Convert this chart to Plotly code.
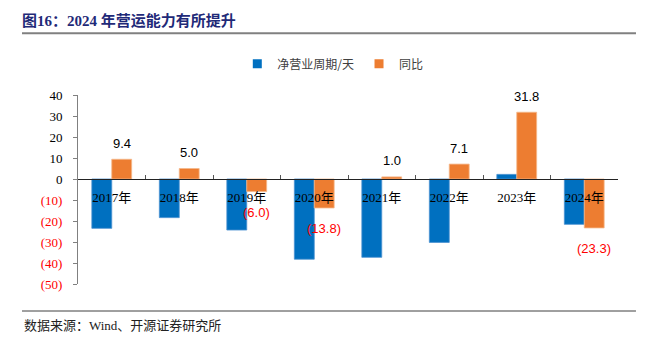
import plotly.graph_objects as go

# Net operating cycle (days) and its year-over-year change, 2017-2024
years = ["2017年", "2018年", "2019年", "2020年", "2021年", "2022年", "2023年", "2024年"]
cycle_days = [-23.5, -18.4, -24.3, -38.2, -37.3, -30.2, 2.2, -21.6]
yoy_change = [9.4, 5.0, -6.0, -13.8, 1.0, 7.1, 31.8, -23.3]

y_ticks = [40, 30, 20, 10, 0, -10, -20, -30, -40, -50]
y_min, y_max = -50, 40

BLUE = "#0070C0"
ORANGE = "#ED7D31"
RED = "#FF0000"
SERIF = "Liberation Serif, Noto Sans CJK SC"
SANS = "Liberation Sans, Noto Sans CJK SC"


def tick_label(v):
    if v < 0:
        return f'<span style="color:{RED}">({abs(v)})</span>'
    return str(v)


def value_label(v):
    if v < 0:
        return f'<span style="color:{RED}">({abs(v):.1f})</span>'
    return f"{v:.1f}"


fig = go.Figure()
fig.add_trace(go.Bar(
    name="净营业周期/天", x=years, y=cycle_days, showlegend=False,
    marker=dict(color=BLUE, line=dict(color="#4A90D0", width=0.8)),
))
fig.add_trace(go.Bar(
    name="同比", x=years, y=yoy_change, showlegend=False,
    marker=dict(color=ORANGE, line=dict(color="#F5B88A", width=0.8)),
))

# Legend entries with small square keys
for name, color in [("净营业周期/天", BLUE), ("同比", ORANGE)]:
    fig.add_trace(go.Scatter(
        name=name, x=[None], y=[None], mode="markers",
        marker=dict(symbol="square", size=9, color=color),
    ))

# Value labels for the year-over-year series
annotations = []
for yr, v in zip(years, yoy_change):
    annotations.append(dict(
        x=yr, y=v, xref="x", yref="y", text=value_label(v), showarrow=False,
        xshift=10, yshift=16 if v >= 0 else -21,
        font=dict(family=SANS, size=13, color="#000000"),
    ))

# Source note
annotations.append(dict(
    x=-0.1037, y=-0.217, xref="paper", yref="paper", xanchor="left", yanchor="middle",
    text="数据来源：Wind、开源证券研究所", showarrow=False,
    font=dict(family=SERIF, size=13, color="#222222"),
))

fig.update_layout(
    width=649, height=345,
    margin=dict(l=78, r=31, t=95, b=61),
    paper_bgcolor="white", plot_bgcolor="white",
    barmode="group", bargap=0.41, bargroupgap=0,
    title=dict(
        text="<b>图16：2024 年营运能力有所提升</b>",
        x=0.034, xref="container", xanchor="left",
        y=0.94, yref="container", yanchor="middle",
        font=dict(family=SERIF, size=15, color="#1F2A78"),
    ),
    legend=dict(
        orientation="h", x=0.295, y=1.165, xanchor="left", yanchor="middle",
        font=dict(family="Noto Sans CJK SC", size=12, color="#404040"),
        itemwidth=30, traceorder="normal",
    ),
    annotations=annotations,
    shapes=[
        dict(type="line", xref="paper", yref="paper", x0=-0.1037, x1=1.0333,
             y0=1.3265, y1=1.3265, line=dict(color="#808080", width=2)),
        dict(type="line", xref="paper", yref="paper", x0=-0.1037, x1=1.0333,
             y0=-0.1429, y1=-0.1429, line=dict(color="#404040", width=1)),
    ],
)

fig.update_xaxes(
    type="category", anchor="free", position=(0 - y_min) / (y_max - y_min),
    showline=True, linecolor="#222222", linewidth=1,
    ticks="inside", tickson="boundaries", ticklen=4, tickcolor="#555555",
    ticklabelstandoff=6,
    tickfont=dict(family=SERIF, size=13, color="#000000"),
    showgrid=False, zeroline=False,
)
fig.update_yaxes(
    range=[y_min, y_max], tickvals=y_ticks, ticktext=[tick_label(v) for v in y_ticks],
    showline=True, linecolor="#808080", linewidth=1,
    ticks="outside", ticklen=4, tickcolor="#808080",
    ticklabelstandoff=8,
    tickfont=dict(family=SERIF, size=13, color="#000000"),
    showgrid=False, zeroline=False,
)

fig.write_html("out.html")
